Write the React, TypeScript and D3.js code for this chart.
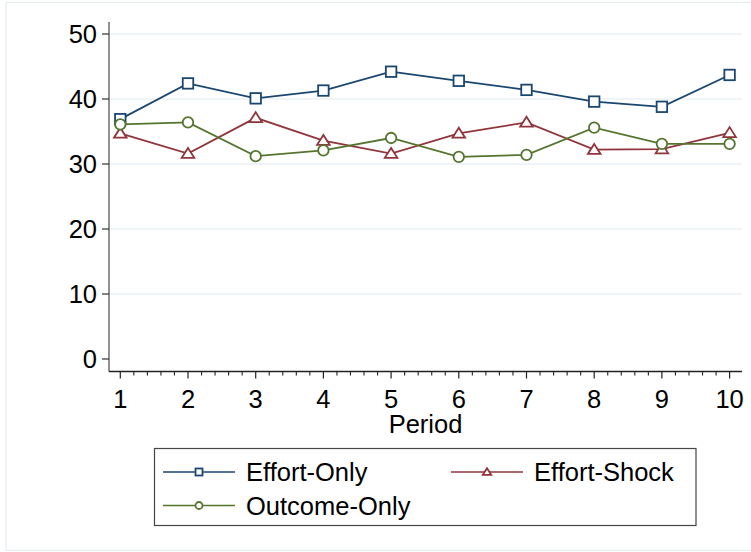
import React, { useRef, useEffect } from "react";
import * as d3 from "d3";

const width = 751;
const height = 552;

const periods = [1, 2, 3, 4, 5, 6, 7, 8, 9, 10];
const effortOnly = [36.9, 42.4, 40.1, 41.3, 44.2, 42.8, 41.4, 39.6, 38.8, 43.7];
const effortShock = [34.7, 31.6, 37.1, 33.6, 31.6, 34.7, 36.4, 32.2, 32.3, 34.8];
const outcomeOnly = [36.1, 36.4, 31.2, 32.1, 34.0, 31.1, 31.4, 35.6, 33.1, 33.1];
const yTicks = [0, 10, 20, 30, 40, 50];
const seriesNames = ["Effort-Only", "Effort-Shock", "Outcome-Only"];

const colors = ["#1a476f", "#90353b", "#55752f"];
const symbols = ["square", "triangle", "circle"];
const font = "'Liberation Sans', Arial, sans-serif";
const fontSize = 25.5;

export default function App() {
  const ref = useRef<SVGSVGElement | null>(null);

  useEffect(() => {
    const svg = d3.select(ref.current);
    svg.selectAll("*").remove();

    const left = 109;
    const right = 742;
    const top = 22;
    const bottom = 371.5;

    const x = d3.scaleLinear().domain([1, 10]).range([120.3, 729.6]);
    const y = d3.scaleLinear().domain([0, 50]).range([359, 34]);

    // outer graph frame
    svg
      .append("rect")
      .attr("x", 6)
      .attr("y", 2.5)
      .attr("width", 760)
      .attr("height", 548)
      .attr("fill", "#fff")
      .attr("stroke", "#e6edf0")
      .attr("stroke-width", 1.2);

    // gridlines
    svg
      .append("g")
      .selectAll("line")
      .data(yTicks.filter((d) => d > 0))
      .enter()
      .append("line")
      .attr("x1", left)
      .attr("x2", right)
      .attr("y1", (d) => y(d))
      .attr("y2", (d) => y(d))
      .attr("stroke", "#eaf0f3")
      .attr("stroke-width", 1.5);

    // y axis
    const gy = svg.append("g").attr("transform", `translate(${left},0)`);
    gy.append("line")
      .attr("y1", top)
      .attr("y2", bottom)
      .attr("stroke", "#555")
      .attr("stroke-width", 1.3);
    gy.selectAll("line.tick")
      .data(yTicks)
      .enter()
      .append("line")
      .attr("class", "tick")
      .attr("x1", -7)
      .attr("x2", 0)
      .attr("y1", (d) => y(d))
      .attr("y2", (d) => y(d))
      .attr("stroke", "#333")
      .attr("stroke-width", 1.2);
    gy.selectAll("text")
      .data(yTicks)
      .enter()
      .append("text")
      .text((d) => d)
      .attr("x", -12)
      .attr("y", (d) => y(d))
      .attr("dy", "0.36em")
      .attr("text-anchor", "end")
      .attr("font-family", font)
      .attr("font-size", fontSize)
      .attr("fill", "#000");

    // x axis
    const gx = svg.append("g").attr("transform", `translate(0,${bottom})`);
    gx.append("line")
      .attr("x1", left)
      .attr("x2", right)
      .attr("stroke", "#222")
      .attr("stroke-width", 1.3);
    const minor = d3.range(1, 10.01, 0.2).filter((d) => Math.abs(d - Math.round(d)) > 0.01);
    gx.selectAll("line.minor")
      .data(minor)
      .enter()
      .append("line")
      .attr("class", "minor")
      .attr("x1", (d) => x(d))
      .attr("x2", (d) => x(d))
      .attr("y1", 0)
      .attr("y2", 4)
      .attr("stroke", "#222")
      .attr("stroke-width", 1.1);
    gx.selectAll("line.major")
      .data(periods)
      .enter()
      .append("line")
      .attr("class", "major")
      .attr("x1", (d) => x(d))
      .attr("x2", (d) => x(d))
      .attr("y1", 0)
      .attr("y2", 7)
      .attr("stroke", "#222")
      .attr("stroke-width", 1.2);
    gx.selectAll("text")
      .data(periods)
      .enter()
      .append("text")
      .text((d) => d)
      .attr("x", (d) => x(d))
      .attr("y", 36)
      .attr("text-anchor", "middle")
      .attr("font-family", font)
      .attr("font-size", fontSize)
      .attr("fill", "#000");
    svg
      .append("text")
      .text("Period")
      .attr("x", (left + right) / 2)
      .attr("y", 433)
      .attr("text-anchor", "middle")
      .attr("font-family", font)
      .attr("font-size", fontSize)
      .attr("fill", "#000");

    const drawMarker = (
      g: d3.Selection<any, any, any, any>,
      kind: string,
      cx: number,
      cy: number,
      s: number,
      color: string
    ) => {
      if (kind === "square") {
        g.append("rect")
          .attr("x", cx - s / 2)
          .attr("y", cy - s / 2)
          .attr("width", s)
          .attr("height", s)
          .attr("fill", "#fff")
          .attr("stroke", color)
          .attr("stroke-width", 1.8);
      } else if (kind === "circle") {
        g.append("circle")
          .attr("cx", cx)
          .attr("cy", cy)
          .attr("r", s / 2)
          .attr("fill", "#fff")
          .attr("stroke", color)
          .attr("stroke-width", 1.8);
      } else {
        const h = s * 0.9;
        g.append("path")
          .attr(
            "d",
            `M${cx},${cy - h * 0.6}L${cx + s * 0.6},${cy + h * 0.45}L${cx - s * 0.6},${cy + h * 0.45}Z`
          )
          .attr("fill", "#fff")
          .attr("stroke", color)
          .attr("stroke-width", 1.8);
      }
    };

    const allSeries = [effortOnly, effortShock, outcomeOnly];
    const line = d3
      .line<number>()
      .x((_, i) => x(periods[i]))
      .y((d) => y(d));

    allSeries.forEach((vals, k) => {
      const g = svg.append("g");
      g.append("path")
        .attr("d", line(vals)!)
        .attr("fill", "none")
        .attr("stroke", colors[k])
        .attr("stroke-width", 1.8);
      vals.forEach((v, i) => drawMarker(g, symbols[k], x(periods[i]), y(v), 10.5, colors[k]));
    });

    // legend
    const lg = svg.append("g");
    lg.append("rect")
      .attr("x", 154.5)
      .attr("y", 448.5)
      .attr("width", 541.5)
      .attr("height", 77)
      .attr("fill", "#fff")
      .attr("stroke", "#444")
      .attr("stroke-width", 1.2);
    const legendPos = [
      { x: 163, y: 472 },
      { x: 451, y: 472 },
      { x: 163, y: 505.5 }
    ];
    seriesNames.forEach((name, k) => {
      const p = legendPos[k];
      lg.append("line")
        .attr("x1", p.x)
        .attr("x2", p.x + 72)
        .attr("y1", p.y)
        .attr("y2", p.y)
        .attr("stroke", colors[k])
        .attr("stroke-width", 1.6);
      drawMarker(lg, symbols[k], p.x + 36, p.y, 7, colors[k]);
      lg.append("text")
        .text(name)
        .attr("x", p.x + 83)
        .attr("y", p.y)
        .attr("dy", "0.36em")
        .attr("font-family", font)
        .attr("font-size", fontSize)
        .attr("fill", "#000");
    });
  }, []);

  return (
    <svg
      ref={ref}
      width={width}
      height={height}
      style={{ position: "absolute", left: 0, top: 0, display: "block" }}
    />
  );
}
